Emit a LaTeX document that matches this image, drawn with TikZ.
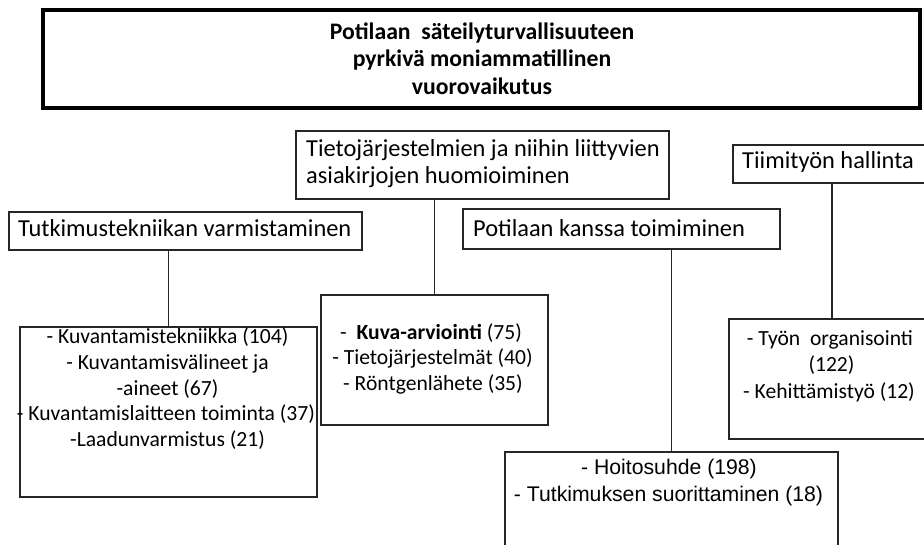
\documentclass[tikz,border=0pt]{standalone}
\usepackage{fontspec}
\setmainfont{Carlito}
\newfontfamily\arialf{Liberation Sans}
\begin{document}
\begin{tikzpicture}[x=1pt,y=-1pt,
  box/.style={draw=black!85, line width=1.5pt, rectangle, inner sep=0pt, fill=none},
  topbox/.style={draw=black, line width=4pt, rectangle, inner sep=0pt},
  conn/.style={draw=black!85, line width=1.5pt},
  hdr/.style={inner sep=0pt, anchor=base west, font=\fontsize{24.4}{27}\selectfont},
  ttl/.style={inner sep=0pt, anchor=base, font=\bfseries\fontsize{23.7}{27.5}\selectfont},
  lst/.style={inner sep=0pt, anchor=base, font=\fontsize{21.6}{25.6}\selectfont},
  lsta/.style={inner sep=0pt, anchor=base, font=\arialf\fontsize{21.2}{27}\selectfont}]
\useasboundingbox[fill=white] (0,0) rectangle (924,545);

% title
\node[topbox, minimum width=877, minimum height=98] (top) at (481.5,59) {};
\node[ttl] (t1) at (482,39.5) {Potilaan\ \ säteilyturvallisuuteen};
\node[ttl] (t2) at (482,67) {pyrkivä moniammatillinen};
\node[ttl] (t3) at (482,94.5) {vuorovaikutus};

% header boxes
\node[box, minimum width=373, minimum height=68] (tieto) at (482.5,165) {};
\node[hdr] (tieto1) at (306,156.7) {Tietojärjestelmien ja niihin liittyvien};
\node[hdr] (tieto2) at (306,183.3) {asiakirjojen huomioiminen};

\node[box, minimum width=202, minimum height=38] (tiimi) at (834,164) {};
\node[hdr] (tiimi1) at (742,169) {Tiimityön hallinta};

\node[box, minimum width=353, minimum height=38] (tutk) at (185.5,231) {};
\node[hdr] (tutk1) at (18,237) {Tutkimustekniikan varmistaminen};

\node[box, minimum width=317, minimum height=40] (pot) at (621.5,229) {};
\node[hdr] (pot1) at (473,237) {Potilaan kanssa toimiminen};

% list boxes
\node[box, minimum width=297, minimum height=170] (ltutk) at (168.5,412) {};
\node[lst] (a1) at (167.5,344) {- Kuvantamistekniikka (104)};
\node[lst] (a2) at (167.5,369.6) {- Kuvantamisvälineet ja};
\node[lst] (a3) at (167.5,395.2) {-aineet (67)};
\node[lst] (a4) at (166,420.8) {- Kuvantamislaitteen toiminta (37)};
\node[lst] (a5) at (167.5,446.4) {-Laadunvarmistus (21)};

\node[box, minimum width=227, minimum height=130] (ltieto) at (434.5,360) {};
\node[lst] (b1) at (431,340) {-\ \ \textbf{Kuva-arviointi} (75)};
\node[lst] (b2) at (432.5,365) {- Tietojärjestelmät (40)};
\node[lst] (b3) at (433,390) {- Röntgenlähete (35)};

\node[box, minimum width=206, minimum height=120] (ltiimi) at (832,379) {};
\node[lst] (c1) at (830,345) {- Työn\ \ organisointi};
\node[lst] (c2) at (831.5,371.5) {(122)};
\node[lst] (c3) at (829,398) {- Kehittämistyö (12)};

\node[box, minimum width=333, minimum height=96] (lpot) at (671.5,500) {};
\node[lsta] (d1) at (669,474.3) {- Hoitosuhde (198)};
\node[lsta] (d2) at (668.5,501.5) {- Tutkimuksen suorittaminen (18)};

% connectors
\draw[conn] (ltutk.north) -- (ltutk.north |- tutk.south);
\draw[conn] (ltieto.north) -- (ltieto.north |- tieto.south);
\draw[conn] (lpot.north) -- (lpot.north |- pot.south);
\draw[conn] (ltiimi.north) -- (ltiimi.north |- tiimi.south);
\end{tikzpicture}
\end{document}
